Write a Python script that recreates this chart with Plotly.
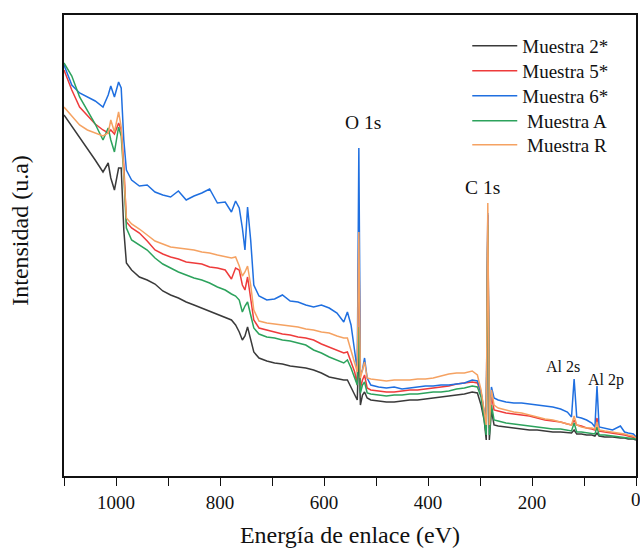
import plotly.graph_objects as go

energy = [1100,1085,1070,1055,1040,1025,1015,1010,1003,995,990,985,980,970,955,940,925,910,895,880,865,850,835,820,805,790,
          778,770,763,757,752,747,741,735,725,710,695,680,665,650,635,620,605,590,575,562,555,548,541,536,533,530,526,522,517,510,
          495,480,465,450,435,420,405,390,375,360,345,330,315,305,298,292,288,285,282,278,273,265,250,235,220,205,190,175,160,145,132,
          124,119,114,105,95,85,79,75,71,60,45,30,22,15,5,0]

m2 = [361,350,338,328,316,304,313,298,286,308,308,246,213,206,199,196,192,185,181,178,174,171,168,165,162,159,
      156,151,144,136,140,149,136,124,118,115,113,112,110,109,108,106,103,99,97,96,96,88,81,76,131,71,81,84,78,76,
      75,74,74,75,76,76,77,78,79,80,81,82,84,83,71,56,36,241,36,66,51,50,49,48,47,46,46,45,44,44,43,
      43,46,42,42,41,41,40,43,40,39,39,38,38,37,37,36]

m5 = [406,386,369,360,352,346,343,346,342,353,346,311,254,248,243,235,226,222,219,217,214,213,212,209,208,206,
      197,208,206,191,186,199,176,156,148,146,144,142,141,139,138,136,132,129,126,123,124,114,104,91,236,88,96,101,88,86,
      85,84,84,85,86,86,87,88,89,90,92,93,94,93,83,63,48,261,48,81,66,65,63,62,61,60,58,56,55,54,52,
      51,56,51,50,48,47,46,58,45,44,43,42,41,40,39,38]

m6 = [411,391,383,379,375,369,381,390,379,394,388,336,306,296,290,291,284,281,279,285,276,280,283,287,273,274,
      264,275,268,248,226,269,236,191,180,176,177,181,175,174,171,169,171,168,163,154,164,151,126,106,328,101,106,118,98,91,
      89,88,89,87,88,89,90,90,91,91,92,93,96,95,84,64,51,263,51,89,78,76,74,73,73,72,71,70,69,67,64,
      59,97,59,58,56,53,49,90,49,48,46,50,44,43,42,39]

mA = [413,400,379,366,352,336,348,336,324,349,340,301,248,236,231,226,218,212,208,204,201,198,196,193,189,186,
      182,180,176,164,170,174,161,148,142,139,138,136,135,133,131,126,123,119,116,113,116,108,98,91,149,83,91,94,83,82,
      81,80,81,81,82,82,83,84,84,85,87,88,90,89,79,58,41,251,41,71,56,55,53,52,51,50,49,48,47,47,46,
      45,53,44,44,43,42,42,49,41,41,40,39,39,38,38,37]

mR = [369,360,351,346,343,340,343,356,344,364,349,306,258,252,247,241,235,232,229,228,227,226,224,223,221,219,
      218,219,210,200,204,210,191,166,155,153,152,151,150,149,147,146,144,143,140,138,138,126,114,104,244,98,106,114,98,97,
      96,95,96,96,96,97,97,98,100,102,103,103,105,101,86,66,51,273,51,86,71,68,66,64,63,61,59,57,56,54,52,
      51,60,51,49,48,48,47,54,46,45,44,43,42,41,40,38]

series = [
    ("Muestra 2*", m2, "#3a3a3a"),
    ("Muestra 5*", m5, "#ee3b3b"),
    ("Muestra 6*", m6, "#1f6fe0"),
    (" Muestra A", mA, "#2ca25c"),
    (" Muestra R", mR, "#f5a262"),
]

peak_labels = ["O 1s", "C 1s", "Al 2s", "Al 2p"]
peak_pos = [525, 295, 140, 58]
peak_height = [354, 289, 110, 96]
peak_size = [19.5, 19.5, 16, 16]

FONT = "Liberation Serif, Times New Roman, Times, DejaVu Serif, serif"

legend_ids = ["legend", "legend2", "legend3", "legend4", "legend5"]
legend_y = [0.933, 0.8785, 0.8243, 0.7701, 0.718]

fig = go.Figure()
for (name, vals, col), lid in zip(series, legend_ids):
    assert len(vals) == len(energy), name
    fig.add_trace(go.Scatter(x=energy, y=vals, mode="lines", name=name, legend=lid,
                             line=dict(color=col, width=1.5)))

for lab, xp, yp, fs in zip(peak_labels, peak_pos, peak_height, peak_size):
    fig.add_annotation(x=xp, y=yp, text=lab, showarrow=False,
                       font=dict(family=FONT, size=fs, color="#111"),
                       xanchor="center", yanchor="middle")

fig.add_annotation(xref="paper", yref="paper", x=-0.077, y=0.534, text="Intensidad (u.a)",
                   textangle=-90, showarrow=False, font=dict(family=FONT, size=24, color="#111"),
                   xanchor="center", yanchor="middle")
fig.add_annotation(x=0, xref="x", yref="paper", y=-0.052, text="0", showarrow=False,
                   font=dict(family=FONT, size=19, color="#111"), xanchor="center", yanchor="middle")

layout_legends = {}
for lid, ly in zip(legend_ids, legend_y):
    layout_legends[lid] = dict(x=0.705, y=ly, xanchor="left", yanchor="middle",
                               bgcolor="rgba(0,0,0,0)", font=dict(family=FONT, size=19),
                               itemwidth=45)

fig.update_layout(
    width=640, height=549,
    margin=dict(l=64, r=2, t=15, b=73),
    paper_bgcolor="white", plot_bgcolor="white",
    font=dict(family=FONT, color="#111"),
    showlegend=True,
    **layout_legends,
)
fig.update_xaxes(range=[1100, 0], tickvals=[1000, 800, 600, 400, 200],
                 ticks="outside", ticklen=8, tickwidth=1.3, tickcolor="#111",
                 minor=dict(tickvals=[1100, 900, 700, 500, 300, 100, 0], ticks="outside", ticklen=8, tickcolor="#111"),
                 showline=True, linecolor="#111", linewidth=1.6, mirror=True,
                 showgrid=False, zeroline=False,
                 tickfont=dict(family=FONT, size=19),
                 title=dict(text="Energía de enlace (eV)", font=dict(family=FONT, size=24), standoff=15))
fig.update_yaxes(range=[0, 461], showticklabels=False, ticks="",
                 showline=True, linecolor="#111", linewidth=1.6, mirror=True,
                 showgrid=False, zeroline=False)

fig.write_html("out.html")
